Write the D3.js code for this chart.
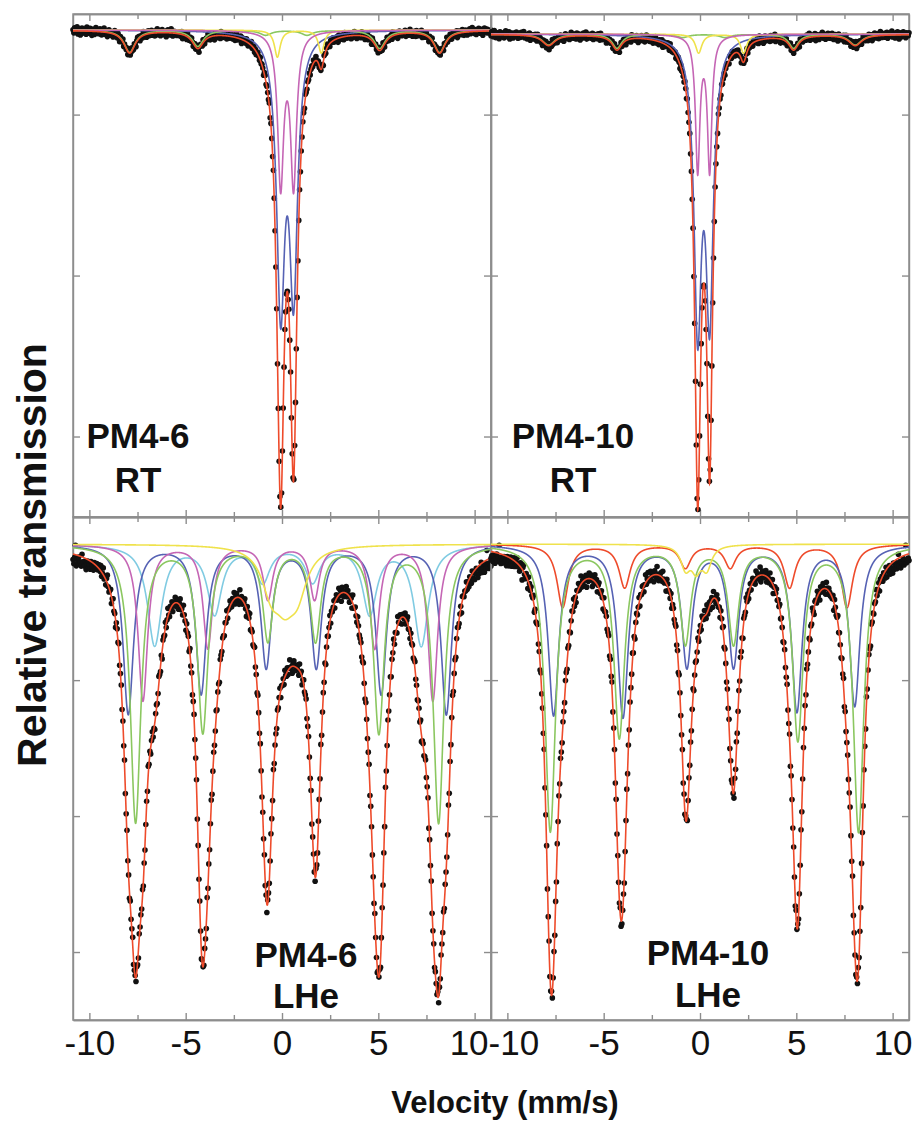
<!DOCTYPE html>
<html>
<head>
<meta charset="utf-8">
<script src="https://cdn.jsdelivr.net/npm/d3@7"></script>
<style>
body { margin: 0; background: #fff; }
svg { display: block; }
</style>
</head>
<body>
<div id="chart"></div>
<script>
// velocity axis of the folded spectra (mm/s)
var vMin = -10.85, vMax = 10.85;
var xTicks = [-10, -7.5, -5, -2.5, 0, 2.5, 5, 7.5, 10];
var xTickLabels = [-10, -5, 0, 5, 10];
var yDomainRT = [0.88, 1.005], yTicksRT = [0.90, 0.94, 0.98];
var yDomainLHe = [0.86, 1.008], yTicksLHe = [0.88, 0.92, 0.96, 1.00];
var baselines = [1.001, 1.000, 1.000, 1.000];

// fitted sub-spectra, one line per row: [position mm/s, depth, half width mm/s]
var pm46rtBlue = [[-0.07, 0.0666, 0.25], [0.60, 0.0626, 0.25]];
var pm46rtMagenta = [[-0.07, 0.0380, 0.184], [0.60, 0.0380, 0.184]];
var pm46rtYellow = [[-0.24, 0.0067, 0.18], [2.04, 0.0057, 0.18]];
var pm46rtGreen = [[-7.91, 0.0055, 0.35], [-4.37, 0.0040, 0.35], [-0.85, 0.0012, 0.35], [1.30, 0.0012, 0.35], [5.07, 0.0045, 0.35], [8.18, 0.0055, 0.35]];

var pm410rtBlue = [[-0.12, 0.0703, 0.23], [0.50, 0.0673, 0.23]];
var pm410rtMagenta = [[-0.12, 0.0335, 0.138], [0.50, 0.0335, 0.138]];
var pm410rtYellow = [[-0.07, 0.0047, 0.2], [2.26, 0.0047, 0.2]];
var pm410rtGreen = [[-7.86, 0.0027, 0.4], [-4.31, 0.0035, 0.3], [-0.90, 0.0008, 0.35], [1.30, 0.0008, 0.35], [4.86, 0.0035, 0.3], [8.06, 0.0027, 0.4]];

var pm46lheBlue = [[-7.98, 0.0497, 0.33], [-4.20, 0.0435, 0.33], [-0.82, 0.0356, 0.33], [1.78, 0.0356, 0.33], [5.15, 0.0435, 0.33], [8.53, 0.0497, 0.33]];
var pm46lheMagenta = [[-7.22, 0.0459, 0.3], [-3.85, 0.0303, 0.3], [-0.73, 0.0159, 0.3], [1.69, 0.0159, 0.3], [4.81, 0.0303, 0.3], [7.83, 0.0459, 0.3]];
var pm46lheCyan = [[-6.61, 0.0295, 0.45], [-3.50, 0.0200, 0.45], [-1.00, 0.0105, 0.45], [1.59, 0.0105, 0.45], [4.55, 0.0200, 0.45], [7.23, 0.0295, 0.45]];
var pm46lheGreen = [[-7.60, 0.0815, 0.33], [-4.11, 0.0547, 0.33], [-0.73, 0.0276, 0.33], [1.74, 0.0276, 0.33], [5.03, 0.0547, 0.33], [8.13, 0.0815, 0.33]];
var pm46lheYellow = [[-0.55, 0.0118, 0.6], [0.15, 0.0118, 0.6], [0.80, 0.0118, 0.6]];

var pm410lheBlue = [[-7.60, 0.0500, 0.33], [-4.00, 0.0503, 0.33], [-0.68, 0.0353, 0.33], [1.74, 0.0353, 0.33], [5.03, 0.0485, 0.33], [8.03, 0.0471, 0.33]];
var pm410lheRed = [[-7.13, 0.0185, 0.35], [-3.91, 0.0126, 0.35], [-0.76, 0.0068, 0.35], [1.57, 0.0068, 0.35], [4.65, 0.0126, 0.35], [7.63, 0.0185, 0.35]];
var pm410lheGreen = [[-7.77, 0.0841, 0.33], [-4.19, 0.0562, 0.33], [-0.76, 0.0285, 0.33], [1.74, 0.0285, 0.33], [5.08, 0.0568, 0.33], [8.23, 0.0841, 0.33]];
var pm410lheYellow = [[-0.75, 0.0065, 0.3], [-0.20, 0.0065, 0.3], [0.35, 0.0065, 0.3]];

// measured points: deviation from the fit per channel (in units of residUnit)
var residUnit = [0.00025, 0.00025, 0.0004, 0.0004];
var residA = [1,-2,3,0,-1,4,-3,2,0,-4,1,3,-2,0,2,-1,-3,4,1,-2,0,3,-1,-4,2,1,-3,0,4,-2,1,-1,
-2,3,0,-3,2,-1,4,-2,1,0,-4,2,3,-1,-2,1,0,-3,2,4,-1,0,-2,3,1,-4,2,0,-1,3,-3,1,
0,-1,2,-3,4,1,-2,0,3,-1,-2,2,0,-4,1,3,-1,2,-3,0,1,-2,4,-1,0,2,-3,1,3,-2,0,-1,
3,-2,1,0,-3,2,-1,4,-2,0,1,-3,2,3,-1,-2,0,1,-4,2,3,0,-1,-2,4,1,-3,0,2,-1,1,-2,
-1,0,2,-2,1,3,-4,0,2,-1,1,-3,4,0,-2,2,-1,3,0,-3,1,2,-2,0,3,-1,-4,1,2,0,-2,3,
2,-3,0,1,-1,4,-2,3,-3,0,2,-1,1,-4,3,0,-2,2,1,-1,-3,4,0,-2,1,3,-1,0,-3,2,1,-2,
0,3,-1,-2,2,0,-3,1,4,-2,0,1,-1,3,-4,2,0,-1,2,-2,3,1,-3,0,1,-1,4,-2,0,2,-3,1,
-3,1,2,0,-2,3,-1,1,0,-4,2,3,-2,1,0,-1,3,-3,2,0,-2,4,1,-1,0,2,-4,3,-1,0,1,-2,
2,0,-1,3,-3,1,0,-2,4,-1,2,-3,0,1,-2,3,-1,0,2,-4,1,3,-2,0,-1,2,1,-3,4,0,-2,1,
-1,2,-3,0,1,-2,3,-1,0,4,-3,1,2,-2,0,-1,3,1,-4,2,0,-2,1,3,-1,0,-3,2,1,-1,3,-2,
1,-1,0,2,-4,3,1,-2,0,2,-1,-3,4,0,1,-2,2,-1,0,3,-3,1,-2,0,4,-1,2,-3,0,1,-1,2,
-2,4,0,-1,2,-3,1,0,3,-2,-1,2,0,-4,3,1,-1,0,2,-2,1,-3,3,0,-1,2,-2,4,0,-3,1,0,
3,-1,-2,1,0,2,-3,4,-1,0,1,-2,2,-4,0,3,-1,1,-2,0,2,-1,3,-3,1,0,-2,2,4,-1,0,-3,
0,2,-1,-3,3,1,-2,0,1,-1,4,-3,0,2,-2,1,3,-1,0,-4,2,1,-1,3,-2,0,1,-3,2,0,-1,4,
-1,-2,3,0,1,-3,2,-1,0,4,-2,1,-1,3,0,-3,2,-1,1,0,-2,3,-4,1,2,0,-1,-2,3,1,-3,0,
2,1,-3,0,-1,3,-2,1,4,-1,0,-2,2,-3,1,0,3,-1,-2,2,0,-4,1,3,-1,0,2,-2,1,-1,0,1];
var residB = [-1,3,0,-2,4,1,-3,0,2,-1,-4,3,1,0,-2,2,-3,1,4,-1,0,-2,3,-4,1,2,0,-3,2,-1,1,3,
0,-3,2,1,-2,3,-1,0,4,-2,1,-1,-3,2,0,3,-4,1,-1,2,0,-2,3,1,-3,4,-1,0,2,-2,1,-4,
2,0,-1,3,-3,1,2,-4,0,1,-2,4,-1,0,3,-2,1,-3,2,0,-1,3,-2,1,0,-4,2,3,-1,0,-2,1,
-3,1,4,-1,0,-2,2,1,-3,3,0,-1,2,-4,1,0,-2,3,1,-1,4,-3,0,2,-1,1,-2,0,3,-3,2,0,
1,-2,0,3,-1,-3,4,0,-2,1,2,-1,0,-4,3,1,-2,2,-1,0,3,-3,1,4,-2,0,1,-1,2,-4,0,3,
-2,0,3,-1,2,-4,1,3,0,-2,1,-3,4,-1,0,2,-1,-2,3,1,-4,0,2,-1,3,-2,0,1,-3,2,4,-1,
3,-1,-2,0,1,2,-3,1,-1,4,-2,0,1,-3,2,-1,0,3,-4,1,2,-2,0,-1,3,1,-3,4,0,-2,1,-1,
0,2,-3,1,-1,3,0,-4,2,-1,1,0,-2,3,1,-3,4,-1,0,2,-2,1,-1,3,-4,0,2,1,-3,0,3,-2,
-1,-3,2,4,-2,0,1,-1,3,-3,0,2,-1,1,-4,3,0,-2,2,1,-1,-3,4,0,1,-2,3,-1,0,2,-3,1,
2,1,-1,-3,3,0,-2,4,-1,1,-3,0,2,-2,3,0,-1,1,-4,2,3,-1,0,-2,1,4,-3,0,-1,2,1,-2,
-3,2,0,1,-1,-2,3,-3,4,0,-1,2,1,-4,0,3,-2,1,-1,0,2,-3,3,1,-2,0,-1,4,-3,1,2,0,
1,0,-4,2,3,-1,0,-2,1,3,-3,1,-1,0,4,-2,2,-1,-3,3,0,1,-2,2,-1,-4,3,0,1,-2,0,2,
0,-2,3,-1,1,4,-3,0,2,-2,1,-1,3,-4,2,0,1,-3,0,2,-1,4,-2,1,0,-3,2,-1,3,0,-2,1,
-2,3,1,-3,0,2,-1,1,-4,3,2,0,-2,1,-1,3,-3,0,4,-2,1,-1,0,2,-3,1,3,-2,0,-1,4,-3,
3,-1,0,2,-2,-3,1,4,-1,0,-2,2,1,-3,3,-1,0,2,-4,1,-1,3,0,-2,2,1,-3,0,4,-1,-2,1,
-1,2,-2,0,3,-3,1,-1,2,0,4,-2,-1,1,-3,2,0,3,-1,-4,1,2,-2,0,3,-1,1,-3,2,0,-1,2];
var residC = [-4,-7,-2,7,-8,-3,-5,-1,-6,-4,-7,2,-5,-3,-6,-2,-8,-4,-1,-5,-3,-6,0,-4,-2,-5,1,-3,-1,2,-2,0,
3,-1,4,-3,0,5,-2,1,-4,2,6,-1,-3,0,3,-5,1,4,-2,0,-6,2,3,-1,5,-3,0,2,-4,1,-2,4,
-3,0,5,-2,1,-5,3,-1,2,6,-4,0,1,-3,4,-2,-6,3,0,2,-1,5,-3,1,-4,0,3,-2,6,-1,2,-5,
1,4,-3,0,-5,2,3,-2,-1,5,0,-4,2,-6,3,1,-2,4,-3,0,6,-1,-4,2,0,3,-5,1,-2,4,0,-3,
2,-4,1,5,-2,0,-3,6,1,-1,-5,3,0,2,-4,4,-2,1,-6,0,3,-1,2,5,-3,0,-2,4,1,-5,3,0,
-2,3,0,-4,6,-1,2,-3,1,4,-5,0,3,-2,-1,5,-3,2,0,-6,4,1,-2,3,0,-4,2,-1,5,-3,1,0,
4,-1,-3,2,0,5,-4,1,3,-2,0,-5,6,-1,2,-3,1,0,4,-2,-6,3,1,-1,5,-4,0,2,-3,1,6,-2,
0,-5,3,1,-2,4,-1,-4,2,0,5,-3,1,-6,3,2,-2,0,4,-1,-3,6,-2,1,0,-4,3,-1,2,5,-5,1,
-1,2,-4,5,0,-2,3,-3,1,6,-1,0,-5,2,4,-3,1,-2,0,3,-4,5,-1,2,-6,0,3,-2,1,4,-3,0,
3,0,-2,4,-5,1,2,-1,-3,5,0,-4,3,1,-2,6,-3,0,2,-1,4,-5,1,3,-2,0,5,-4,2,-1,0,3,
-4,1,3,-2,0,5,-1,2,-6,4,0,-3,1,-1,5,-2,3,0,-4,2,1,-5,6,-2,0,3,-1,-3,4,1,-2,0,
2,-3,0,6,-1,-4,3,1,-2,0,4,-5,2,3,-1,0,-3,5,1,-2,-4,3,0,2,-6,1,4,-1,0,-3,5,-2,
0,4,-2,-1,3,-5,1,0,5,-3,2,-1,-4,6,0,-2,3,1,-5,2,0,-1,4,-3,1,5,-2,0,-4,3,-1,2,
-3,1,5,-2,0,-4,2,3,-1,6,-5,0,2,-3,1,4,-2,0,3,-6,1,-1,5,-2,0,3,-4,2,1,-1,4,-5,
1,-2,4,0,-3,2,-5,3,1,-1,0,5,-4,2,-2,3,6,-3,0,1,-5,2,4,-1,-3,0,2,-6,3,1,-2,0,
-2,3,-4,0,-5,1,-3,-6,2,-4,-1,-7,-3,0,-5,-8,-2,-6,-4,1,-7,-3,-5,-8,-2,-6,7,-4,-7,-3,-5,-6];
var residD = [-5,-3,-7,-2,-6,-8,-4,-1,-6,-3,6,-5,-7,-2,-4,-6,-1,-5,-3,-7,0,-4,-2,-6,1,-3,-5,-1,2,-4,-2,0,
4,-2,1,-4,3,0,-8,2,5,-1,-3,2,0,-6,4,1,-2,3,-1,0,5,-4,2,-3,1,6,-2,0,-5,3,-1,2,
-1,5,-3,0,2,-4,1,6,-2,-1,3,-5,0,4,-3,1,-6,2,0,3,-2,5,-1,-4,2,0,-3,4,1,-5,3,-2,
2,-4,0,3,-1,5,-3,1,-5,2,0,4,-2,-1,6,-3,1,0,-4,2,3,-6,1,-2,4,0,-1,3,-5,2,-2,5,
0,3,-5,1,4,-2,-1,3,0,-6,5,-2,1,2,-3,0,4,-4,2,-1,6,-3,0,1,-5,3,-2,2,0,-1,5,-4,
-3,1,2,-5,0,3,6,-2,1,-4,2,0,-1,5,-3,2,-6,1,3,-2,0,4,-5,1,-1,3,2,-4,0,6,-2,1,
5,-2,-1,4,-3,0,2,-5,3,1,-2,6,0,-4,1,-1,3,-3,5,0,-2,1,-6,4,2,-1,0,-3,3,-5,1,2,
-2,0,4,-3,1,-6,3,2,-1,0,5,-4,2,-2,3,1,-5,0,4,-1,2,-3,1,6,-4,0,3,-2,-1,4,-3,0,
1,-5,3,0,-2,4,-1,-3,6,-2,0,3,-4,1,2,-6,5,-1,0,-3,4,2,-2,0,-5,3,1,-1,5,-4,2,0,
-4,2,0,5,-3,1,-2,4,0,-5,3,-1,6,-2,0,2,-3,4,-1,1,-6,3,0,-2,5,-1,2,-4,0,3,-3,1,
3,0,-2,-4,5,-1,2,0,-3,6,-5,1,3,-2,0,-1,4,-4,2,0,-3,5,1,-2,3,-6,0,2,-1,4,-2,1,
-1,4,-3,2,0,-5,1,3,-2,0,5,-3,-1,4,-6,2,1,-2,3,0,-4,6,-1,2,-3,0,1,5,-4,-1,3,0,
2,-3,5,-1,0,3,-4,1,-2,6,0,-5,2,1,-3,4,-1,0,-6,3,2,-2,4,-1,0,-4,5,1,-3,2,0,-2,
0,-1,3,-6,4,1,-2,0,5,-3,2,-1,-4,3,0,6,-5,2,-2,1,3,-3,0,4,-1,-2,6,-4,1,0,-3,2,
-2,4,-1,0,-5,3,1,-3,2,0,-4,5,-2,1,3,-1,-6,4,0,2,-3,1,-1,5,-2,0,3,-5,2,-1,1,-4,
1,-3,-5,2,-6,-2,-4,0,-7,-3,-5,-8,-1,-6,-4,-2,-7,-5,3,-6,-3,-8,-4,-6,-2,-7,-5,7,-6,-4,-3,-5];

var colRed = "#ee4b2b", colBlue = "#5662b4", colMagenta = "#c566b5",
    colGreen = "#8bc760", colYellow = "#efe24c", colCyan = "#80cbe2";

var panelW = 418, panelH = 503;
var panels = [
  {x0: 73, y0: 14, dom: yDomainRT, ticks: yTicksRT, base: baselines[0], resid: residA, unit: residUnit[0],
   comps: [[pm46rtBlue, colBlue], [pm46rtGreen, colGreen], [pm46rtYellow, colYellow], [pm46rtMagenta, colMagenta]],
   label: ["PM4-6", "RT"], lx: 138, ly: [448, 492]},
  {x0: 491, y0: 14, dom: yDomainRT, ticks: yTicksRT, base: baselines[1], resid: residB, unit: residUnit[1],
   comps: [[pm410rtBlue, colBlue], [pm410rtGreen, colGreen], [pm410rtYellow, colYellow], [pm410rtMagenta, colMagenta]],
   label: ["PM4-10", "RT"], lx: 573, ly: [448, 492]},
  {x0: 73, y0: 517, dom: yDomainLHe, ticks: yTicksLHe, base: baselines[2], resid: residC, unit: residUnit[2],
   comps: [[pm46lheCyan, colCyan], [pm46lheBlue, colBlue], [pm46lheMagenta, colMagenta], [pm46lheGreen, colGreen], [pm46lheYellow, colYellow]],
   label: ["PM4-6", "LHe"], lx: 306, ly: [967, 1008], edgeShift: {"10": -6}},
  {x0: 491, y0: 517, dom: yDomainLHe, ticks: yTicksLHe, base: baselines[3], resid: residD, unit: residUnit[3],
   comps: [[pm410lheRed, colRed], [pm410lheBlue, colBlue], [pm410lheGreen, colGreen], [pm410lheYellow, colYellow]],
   label: ["PM4-10", "LHe"], lx: 708, ly: [965, 1007], edgeShift: {"-10": 6}}
];

function absorb(lines, v) {
  return d3.sum(lines, function(l) { return l[1] / (1 + Math.pow((v - l[0]) / l[2], 2)); });
}

var svg = d3.select("#chart").append("svg")
    .attr("width", 912).attr("height", 1124)
    .style("font-family", "'Liberation Sans', Arial, Helvetica, sans-serif");

var curveV = d3.range(vMin, vMax + 1e-9, 0.005);

panels.forEach(function(p, pi) {
  var x = d3.scaleLinear().domain([vMin, vMax]).range([p.x0, p.x0 + panelW]);
  var y = d3.scaleLinear().domain(p.dom).range([p.y0 + panelH, p.y0]);
  var g = svg.append("g");

  var major = xTicks.filter(function(t) { return t % 5 === 0; });
  var minor = xTicks.filter(function(t) { return t % 5 !== 0; });
  [[major, 7], [minor, 5]].forEach(function(set) {
    g.append("g").attr("transform", "translate(0," + (p.y0 + panelH) + ")")
      .call(d3.axisTop(x).tickValues(set[0]).tickSize(set[1]).tickSizeOuter(0).tickFormat(""));
    g.append("g").attr("transform", "translate(0," + p.y0 + ")")
      .call(d3.axisBottom(x).tickValues(set[0]).tickSize(set[1]).tickSizeOuter(0).tickFormat(""));
  });
  g.append("g").attr("transform", "translate(" + p.x0 + ",0)")
    .call(d3.axisRight(y).tickValues(p.ticks).tickSize(7).tickSizeOuter(0).tickFormat(""));
  g.append("g").attr("transform", "translate(" + (p.x0 + panelW) + ",0)")
    .call(d3.axisLeft(y).tickValues(p.ticks).tickSize(7).tickSizeOuter(0).tickFormat(""));
  g.selectAll(".domain, .tick line").attr("stroke", "#8d8d8d").attr("stroke-width", 1.4);

  g.append("rect").attr("x", p.x0).attr("y", p.y0).attr("width", panelW).attr("height", panelH)
    .attr("fill", "none").attr("stroke", "#8d8d8d").attr("stroke-width", 1.5);

  if (pi >= 2) {
    var ax = g.append("g").attr("transform", "translate(0," + (p.y0 + panelH) + ")")
      .call(d3.axisBottom(x).tickValues(xTickLabels).tickSize(0).tickPadding(10)
        .tickFormat(function(d) { return String(d); }));
    ax.select(".domain").remove();
    ax.selectAll("text").attr("font-size", 35).attr("fill", "#111")
      .attr("dx", function(d) { return p.edgeShift[String(d)] || 0; })
      .style("font-family", "'Liberation Sans', Arial, sans-serif");
  }

  var all = p.comps.map(function(c) { return c[0]; });
  function total(v) { return p.base - d3.sum(all, function(lines) { return absorb(lines, v); }); }

  // measured points
  var n = p.resid.length;
  var pts = p.resid.map(function(r, i) {
    var v = vMin + i * (vMax - vMin) / (n - 1);
    return [v, total(v) + r * p.unit];
  });
  g.append("g").selectAll("circle").data(pts).enter().append("circle")
    .attr("cx", function(d) { return x(d[0]); })
    .attr("cy", function(d) { return y(d[1]); })
    .attr("r", 2.8).attr("fill", "#111");

  var line = d3.line().x(function(d) { return x(d[0]); }).y(function(d) { return y(d[1]); });

  p.comps.forEach(function(c) {
    var data = curveV.map(function(v) { return [v, p.base - absorb(c[0], v)]; });
    g.append("path").datum(data).attr("d", line)
      .attr("fill", "none").attr("stroke", c[1]).attr("stroke-width", 1.6);
  });

  g.append("path").datum(curveV.map(function(v) { return [v, total(v)]; })).attr("d", line)
    .attr("fill", "none").attr("stroke", colRed).attr("stroke-width", 1.6);

  p.label.forEach(function(t, k) {
    g.append("text").attr("x", p.lx).attr("y", p.ly[k]).attr("text-anchor", "middle")
      .attr("font-size", 35).attr("font-weight", "bold").attr("fill", "#111").text(t);
  });
});

svg.append("text").attr("transform", "translate(46,555) rotate(-90)")
  .attr("text-anchor", "middle").attr("font-size", 41).attr("font-weight", "bold")
  .attr("fill", "#111").text("Relative transmission");

svg.append("text").attr("x", 505).attr("y", 1113).attr("text-anchor", "middle")
  .attr("font-size", 31).attr("font-weight", "bold").attr("fill", "#111").text("Velocity (mm/s)");
</script>
</body>
</html>
